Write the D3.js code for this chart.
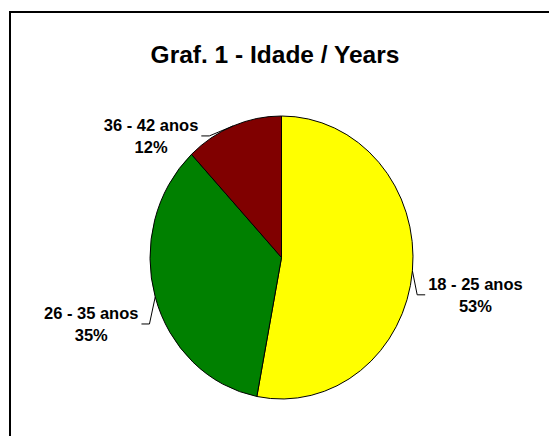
<!DOCTYPE html>
<html>
<head>
<script src="https://d3js.org/d3.v7.min.js"></script>
<style>
  html, body { margin: 0; background: #fff; }
  svg text { font-family: Arial, "Liberation Sans", sans-serif; font-weight: bold; fill: #000; }
</style>
</head>
<body>
<svg width="549" height="436"></svg>
<script>
var categories = ["18 - 25 anos", "26 - 35 anos", "36 - 42 anos"];
var shares = [53, 35, 12];
var colors = ["#ffff00", "#008000", "#800000"];
// where each label block sits, relative to the middle of its slice's edge
var labelOffsets = [[63, 24], [-64, 27], [-82, 10]];

var svg = d3.select("svg");
var cx = 281.5, cy = 257.5, rx = 131.5, ry = 141.5;

// chart area frame (runs off the right/bottom of the picture)
svg.append("rect")
  .attr("x", 10).attr("y", 12)
  .attr("width", 600).attr("height", 500)
  .attr("fill", "none").attr("stroke", "#000").attr("stroke-width", 2);

svg.append("text")
  .attr("x", 275).attr("y", 63)
  .attr("text-anchor", "middle")
  .style("font-size", "24.5px")
  .text("Graf. 1 - Idade / Years");

var pie = d3.pie().sort(null).value(function(d) { return d; });
var arcs = pie(shares);
var arc = d3.arc().innerRadius(0).outerRadius(rx);

var g = svg.append("g")
  .attr("transform", "translate(" + cx + "," + cy + ") scale(1," + (ry / rx) + ")");

g.selectAll("path")
  .data(arcs)
  .enter().append("path")
  .attr("d", arc)
  .attr("fill", function(d, i) { return colors[i]; })
  .attr("stroke", "#000")
  .attr("stroke-width", 1)
  .attr("vector-effect", "non-scaling-stroke");

arcs.forEach(function(d, i) {
  var a = (d.startAngle + d.endAngle) / 2;
  var px = cx + rx * Math.sin(a), py = cy - ry * Math.cos(a);
  var lx = px + labelOffsets[i][0], ly = py + labelOffsets[i][1];

  var t1 = svg.append("text")
    .attr("x", lx).attr("y", ly - 5)
    .attr("text-anchor", "middle")
    .style("font-size", "16.5px")
    .text(categories[i]);
  svg.append("text")
    .attr("x", lx).attr("y", ly + 17)
    .attr("text-anchor", "middle")
    .style("font-size", "16.5px")
    .text(d3.format(".0f")(shares[i]) + "%");

  var w = t1.node().getComputedTextLength();
  var side = labelOffsets[i][0] > 0 ? -1 : 1;
  var edgeX = lx + side * (w / 2 + 3);
  var pts = [[edgeX, ly], [edgeX + side * 8, ly], [px, py]];
  svg.append("path")
    .attr("d", d3.line()(pts))
    .attr("fill", "none")
    .attr("stroke", "#000")
    .attr("stroke-width", 1);
});
</script>
</body>
</html>
